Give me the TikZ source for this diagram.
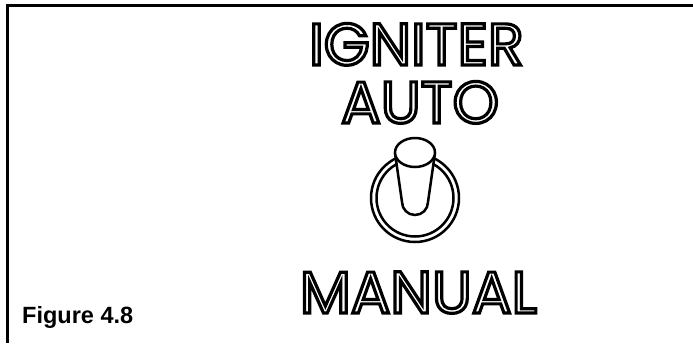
\documentclass[tikz,border=0pt]{standalone}
\usepackage{fontspec}
\setmainfont{Liberation Sans}
\newfontfamily\signfont{Poppins}
\usepackage{tikz}
% hollow letters: stroke only, no fill
\newcommand{\hollow}[1]{\special{pdf:literal direct 1 Tr 3.2 w}#1\special{pdf:literal direct 0 Tr}}

\begin{document}
\begin{tikzpicture}[x=1pt,y=-1pt,
  signtext/.style={anchor=base,inner sep=0pt,font=\signfont\fontsize{59}{64}\selectfont},
  ring/.style={line width=2.5pt}]
\useasboundingbox (0,0) rectangle (693,343);
\coordinate (TL) at (7.5,5.5);
\coordinate (TR) at (693,5.5);
\coordinate (BL) at (7.5,343);
\draw[line width=3pt] (BL) -- (TL) -- (TR);
\node[signtext] (igniter) at (416.5,65) {\hollow{IGNITER}};
\node[signtext] (auto) at (420,123) {\hollow{AUTO}};
\node[signtext] (manual) at (418.5,313) {\hollow{MANUAL}};
\node[anchor=base west,inner sep=0pt,font=\bfseries\fontsize{23.5}{28}\selectfont] (fig) at (22,323) {Figure 4.8};
% switch
\coordinate (C) at (415,198);
\draw[ring] (C) circle (44);
\draw[ring] (C) circle (38.5);
\draw[ring,fill=white] (395,153) -- (402,202) arc[start angle=180,end angle=0,radius=13] -- (435,153);
\draw[ring,fill=white] (415,152.5) ellipse[x radius=20,y radius=14.5];
\end{tikzpicture}
\end{document}
